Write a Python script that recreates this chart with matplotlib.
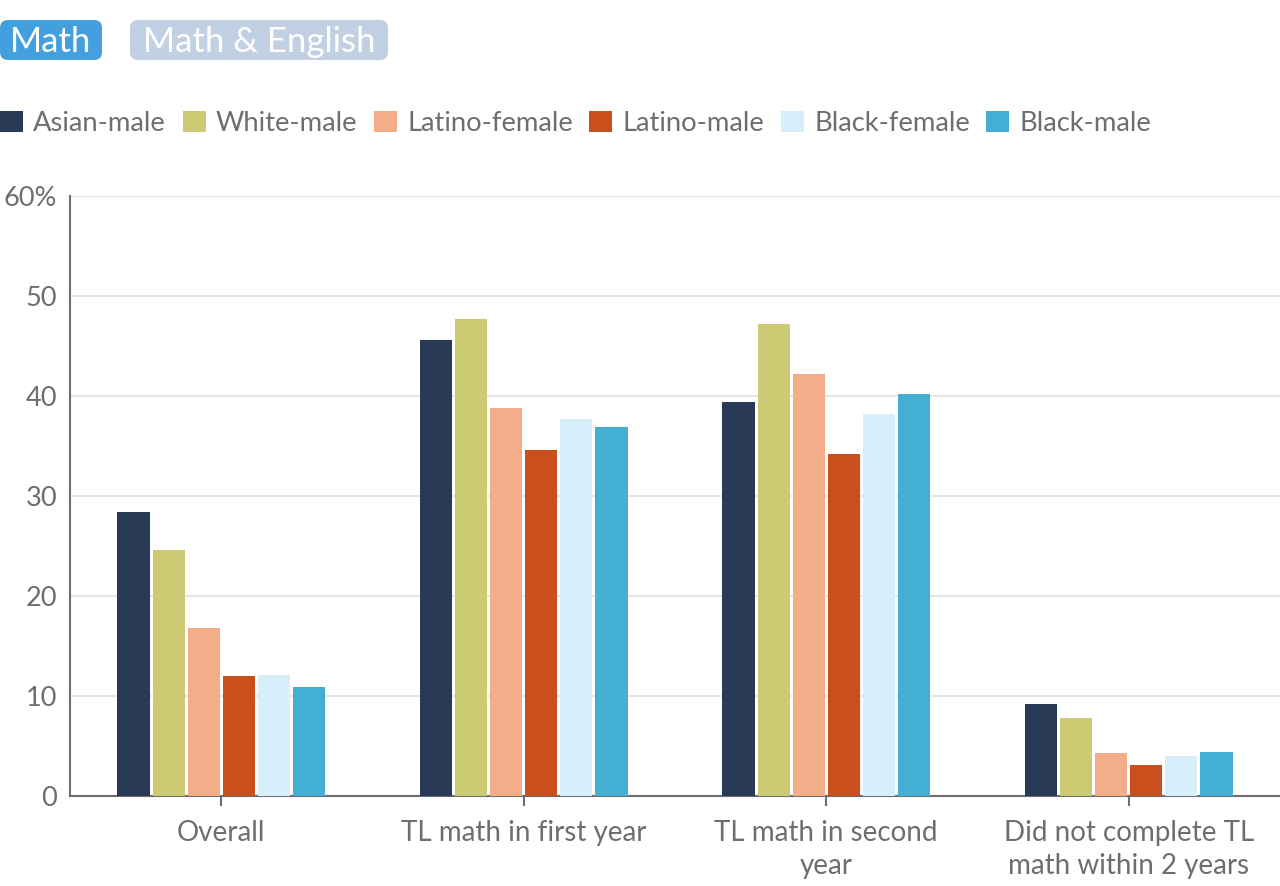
import matplotlib.pyplot as plt
import numpy as np
from matplotlib.patches import Patch, FancyBboxPatch
from matplotlib.transforms import IdentityTransform

plt.rcParams['font.family'] = ['Lato', 'DejaVu Sans']

# Datos
categories = ['Overall', 'TL math in first year', 'TL math in second\nyear',
              'Did not complete TL\nmath within 2 years']
groups = ['Asian-male', 'White-male', 'Latino-female', 'Latino-male',
          'Black-female', 'Black-male']
asian_male = [28.4, 45.6, 39.4, 9.2]
white_male = [24.6, 47.7, 47.2, 7.8]
latino_female = [16.8, 38.8, 42.2, 4.3]
latino_male = [12.0, 34.6, 34.2, 3.1]
black_female = [12.1, 37.7, 38.2, 4.0]
black_male = [10.9, 36.9, 40.2, 4.4]
series = [asian_male, white_male, latino_female, latino_male, black_female, black_male]
colors = ['#283a55', '#cdca74', '#f3ae89', '#c9501c', '#d6effa', '#43afd3']
yticks = [0, 10, 20, 30, 40, 50, 60]
ytick_labels = ['0', '10', '20', '30', '40', '50', '60%']

text_color = '#6d6e71'

fig = plt.figure(figsize=(12.8, 8.86), dpi=100)
ax = fig.add_axes([70 / 1280, 1 - 796 / 886, 1 - 70 / 1280, 600 / 886])

x = np.arange(len(categories))
step = 0.116
width = 0.106
for i, (vals, col) in enumerate(zip(series, colors)):
    ax.bar(x + (i - 2.5) * step, vals, width=width, color=col, zorder=3)

ax.set_xlim(-0.5, 3.5)
ax.set_ylim(0, 60)
ax.set_yticks(yticks)
ax.set_yticklabels(ytick_labels)
ax.set_xticks(x)
ax.set_xticklabels(categories)
ax.yaxis.grid(True, color='#e6e6e6', linewidth=1.5, zorder=0)
ax.tick_params(axis='y', length=0, pad=9.4, labelsize=19.5, labelcolor=text_color)
ax.tick_params(axis='x', length=7, width=1.5, color=text_color, pad=10,
               labelsize=20, labelcolor=text_color)
for lab in ax.get_xticklabels():
    lab.set_linespacing(1.35)
for s in ['top', 'right']:
    ax.spines[s].set_visible(False)
for s in ['left', 'bottom']:
    ax.spines[s].set_color(text_color)
    ax.spines[s].set_linewidth(1.5)

# Leyenda
handles = [Patch(facecolor=c, edgecolor='none', label=g) for g, c in zip(groups, colors)]
fig.legend(handles=handles, loc='upper left', bbox_to_anchor=(0.0, 0.875),
           ncol=6, frameon=False, fontsize=19.7, labelcolor=text_color,
           handlelength=0.84, handleheight=0.84, handletextpad=0.38,
           columnspacing=0.6, borderaxespad=0, borderpad=0)

# Botones (en pixeles)
ident = IdentityTransform()
buttons = [('Math', 0, 102, '#439fdd'), ('Math & English', 130, 258, '#c1d0e3')]
for label, bx, bw, bc in buttons:
    fig.patches.append(FancyBboxPatch((bx, 826), bw, 40, boxstyle='round,pad=0,rounding_size=8',
                                      facecolor=bc, edgecolor='none', transform=ident, figure=fig))
    fig.text(bx + bw / 2, 834, label, fontsize=25, color='white', ha='center', va='baseline',
             transform=ident)

plt.savefig('out.png', dpi=100)
